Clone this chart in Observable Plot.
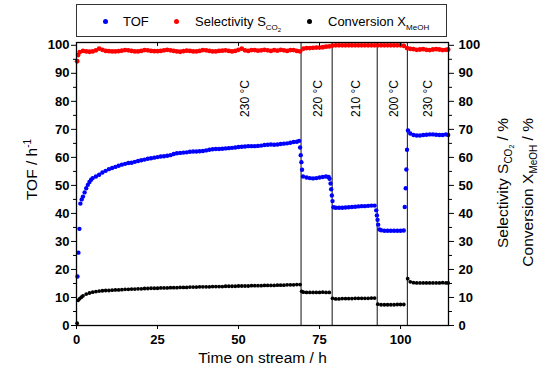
<!DOCTYPE html>
<html><head><meta charset="utf-8">
<script src="https://cdn.jsdelivr.net/npm/d3@7"></script>
<script src="https://cdn.jsdelivr.net/npm/@observablehq/plot@0.6"></script>
<style>
body{margin:0;background:#fff;font-family:"Liberation Sans",Arial,sans-serif;}
#wrap{position:relative;width:541px;height:367px;overflow:hidden;}
#legend{position:absolute;left:0;top:0;width:541px;height:36px;}
#box{position:absolute;left:76px;top:4px;width:371px;height:33px;border:1px solid #333;box-sizing:border-box;}
.item{position:absolute;top:14px;font-size:13px;line-height:15px;white-space:nowrap;color:#000;}
.dot{position:absolute;width:5px;height:5px;border-radius:50%;top:19px;}
.s1{font-size:8px;position:relative;top:4px;}
.s2{font-size:6px;position:relative;top:2px;}
#chart{position:absolute;left:0;top:36px;}
</style></head>
<body>
<div id="wrap">
  <div id="legend">
    <div id="box"></div>
    <div class="dot" style="left:102.5px;background:#0000ff"></div>
    <div class="item" style="left:123px">TOF</div>
    <div class="dot" style="left:173.5px;background:#ff0000"></div>
    <div class="item" style="left:195px">Selectivity S<span class="s1">CO<span class="s2">2</span></span></div>
    <div class="dot" style="left:307px;background:#000"></div>
    <div class="item" style="left:328px">Conversion X<span class="s1">MeOH</span></div>
  </div>
  <div id="chart"></div>
</div>
<script>
// ---- data ----
const tof = [
[0.3,17.5],[0.6,26],[0.9,34.5],[1.2,43.5],[1.6,45],[2,46],[2.5,47.5],[3,49],[3.5,50.2],[4,51.2],[4.5,52],[5,52.6],[6,53.2],[7,53.8],[8,54.6],[9,55.2],[10,55.8],[11,56.2],[12,56.6],[13,57],[14,57.4],[15,57.7],[16,58],[17,58.1],[18,58.4],[19,58.7],[20,59],[21,59.2],[22,59.5],[23,59.7],[24,59.9],[25,60.1],[26,60.3],[27,60.4],[28,60.6],[29,60.8],[30,61.2],[31,61.5],[32,61.6],[33,61.7],[34,61.8],[35,62],[36,62.1],[37,62.1],[38,62.2],[39,62.3],[40,62.5],[41,62.7],[42,62.9],[43,63],[44,63],[45,63.1],[46,63.2],[47,63.3],[48,63.4],[49,63.5],[50,63.7],[51,63.8],[52,63.9],[53,64],[54,64],[55,64],[56,64.1],[57,64.2],[58,64.4],[59,64.5],[60,64.6],[61,64.5],[62,64.6],[63,64.8],[64,64.9],[65,65],[66,65.2],[67,65.5],[68,65.6],[68.7,65.9],
[69.0,63.5],[69.2,60.8],[69.4,58.3],[69.6,55.6],[69.9,53.2],[71,52.8],[72,52.6],[73,52.5],[74,52.6],[75,52.8],[76,53],[77,53.2],[77.8,53],[78.1,52.4],
[78.4,50.7],[78.6,48.6],[78.8,46.4],[79.0,44.4],[79.3,42.2],[80,42],[81,42],[82,42],[83,42.1],[84,42.2],[85,42.3],[86,42.4],[87,42.5],[88,42.6],[89,42.6],[90,42.7],[91,42.8],[92,42.8],
[92.5,41.1],[92.7,39.3],[92.9,37.7],[93.1,36],[93.5,34.3],[94,34],[95,33.8],[96,33.8],[97,33.8],[98,33.8],[99,33.8],[100,33.8],[101,33.9],
[101.3,42.3],[101.6,49],[101.8,55.7],[102.0,62.7],[102.3,69.6],[103,68.5],[104,68],[105,67.8],[106,67.8],[107,68],[108,68.1],[109,68.2],[110,68.2],[111,68.1],[112,68],[113,68],[114,68.2],[114.7,68]
];
const selectivity = [
[0.2,94.3],[0.5,96.5],[1,97.6],[2,98],[3,97.8],[4,97.7],[5,97.8],[6,98.2],[7,98.8],[8,98.4],[9,98],[10,97.9],[11,97.8],[12,97.8],[13,97.9],[14,98.1],[15,98.3],[16,98.2],[17,98],[18,97.8],[19,97.8],[20,98],[21,98.3],[22,98.2],[23,98],[24,97.9],[25,97.9],[26,98],[27,98.2],[28,98.4],[29,98.2],[30,98],[31,97.8],[32,97.7],[33,97.9],[34,98.1],[35,98],[36,97.8],[37,97.8],[38,98],[39,98.3],[40,98.2],[41,98],[42,97.8],[43,97.8],[44,98],[45,98.1],[46,98.2],[47,98],[48,97.8],[49,98],[50,98.4],[51,98.8],[52,98.2],[53,98],[54,98.3],[55,98.3],[56,98.1],[57,98.2],[58,98.4],[59,98.2],[60,98],[61,98.3],[62,98.1],[63,98.4],[64,98.2],[65,98],[66,98.3],[67,98.3],[68,98],[69,97.8],
[70,98.8],[71,99],[72,99],[73,99.1],[74,99.2],[75,99.2],[76,99.3],[77,99.5],[78,99.6],
[79,99.9],[80,100],[81,100],[82,100],[83,100],[84,100],[85,100],[86,100],[87,100],[88,100],[89,100],[90,100],[91,100],[92,100],
[93,100],[94,100],[95,100],[96,100],[97,100],[98,100],[99,100],[100,100],[101,99.8],
[102,99],[103,98.7],[104,98.6],[105,98.4],[106,98.5],[107,98.6],[108,98.4],[109,98.3],[110,98.5],[111,98.6],[112,98.5],[113,98.3],[114,98.4],[114.7,98.5]
];
const conversion = [
[0.2,0.8],[0.5,9],[1,9.6],[1.5,10.1],[2,10.6],[3,11.2],[4,11.6],[5,11.9],[6,12.1],[7,12.3],[8,12.4],[9,12.5],[10,12.5],[11,12.6],[12,12.7],[13,12.7],[14,12.8],[15,12.9],[16,12.9],[17,13],[18,13],[19,13.1],[20,13.1],[21,13.2],[22,13.2],[23,13.3],[24,13.3],[25,13.3],[26,13.4],[27,13.4],[28,13.4],[29,13.5],[30,13.5],[31,13.5],[32,13.6],[33,13.6],[34,13.6],[35,13.7],[36,13.7],[37,13.7],[38,13.8],[39,13.8],[40,13.8],[41,13.8],[42,13.9],[43,13.9],[44,13.9],[45,13.9],[46,14],[47,14],[48,14],[49,14],[50,14.1],[51,14.1],[52,14.1],[53,14.1],[54,14.2],[55,14.2],[56,14.2],[57,14.2],[58,14.3],[59,14.3],[60,14.3],[61,14.3],[62,14.4],[63,14.4],[64,14.4],[65,14.5],[66,14.5],[67,14.5],[68,14.6],[69,14.6],
[69.5,12.2],[70,11.9],[71,11.8],[72,11.8],[73,11.8],[74,11.8],[75,11.8],[76,11.9],[77,11.8],[78,11.8],
[79,9.7],[80,9.5],[81,9.5],[82,9.6],[83,9.6],[84,9.6],[85,9.6],[86,9.7],[87,9.7],[88,9.7],[89,9.7],[90,9.7],[91,9.8],[92,9.8],
[93,7.6],[94,7.4],[95,7.4],[96,7.4],[97,7.4],[98,7.4],[99,7.5],[100,7.5],[101,7.5],
[102.2,16.7],[103,15.6],[104,15.3],[105,15.2],[106,15.2],[107,15.2],[108,15.2],[109,15.2],[110,15.2],[111,15.2],[112,15.2],[113,15.3],[114,15.2],[114.7,15.2]
];
const switchTimes = [69.3, 78.9, 92.8, 102.1];
const tempLabels = ["230 °C", "220 °C", "210 °C", "200 °C", "230 °C"];
const tempX = [52.2, 74.7, 86.4, 98.1, 108.6];
const tempY = [81, 81, 81, 81, 81];
const xTicks = [0, 25, 50, 75, 100];
const yTicks = [0, 10, 20, 30, 40, 50, 60, 70, 80, 90, 100];
const yMinor = [5, 15, 25, 35, 45, 55, 65, 75, 85, 95];

const font = '"Liberation Sans", Arial, sans-serif';
const chart = Plot.plot({
  width: 541, height: 331,
  marginTop: 6, marginBottom: 42, marginLeft: 76, marginRight: 93,
  style: {fontFamily: font, fontSize: "13px", color: "#000", background: "transparent", overflow: "visible"},
  x: {domain: [0, 114.8]},
  y: {domain: [0, 101]},
  marks: [
    Plot.ruleX(switchTimes, {stroke: "#111", strokeWidth: 1}),
    Plot.dot(conversion, {x: d => d[0], y: d => d[1], r: 1.9, fill: "#000", stroke: "none"}),
    Plot.dot(selectivity, {x: d => d[0], y: d => d[1], r: 2.4, fill: "#ff0000", stroke: "none"}),
    Plot.dot(tof, {x: d => d[0], y: d => d[1], r: 2.2, fill: "#0000ff", stroke: "none"}),
    Plot.text(tempLabels, {x: tempX, y: tempY, text: d => d, rotate: -90, fontSize: 12, fill: "#000"}),
    Plot.ruleX(xTicks, {y1: () => 101, y2: () => 99.6, stroke: "#000"}),
    Plot.axisX({ticks: xTicks, tickSize: 4, tickPadding: 5, label: null, fontWeight: "bold", fontSize: 13}),
    Plot.axisY({ticks: yTicks, tickSize: 5, tickPadding: 2, label: null, fontWeight: "bold", fontSize: 13}),
    Plot.axisY({ticks: yMinor, tickSize: 3, tickFormat: () => "", label: null}),
    Plot.axisY({anchor: "right", ticks: yTicks, tickSize: 5, tickPadding: 5, label: null, fontWeight: "bold", fontSize: 13}),
    Plot.axisY({anchor: "right", ticks: yMinor, tickSize: 3, tickFormat: () => "", label: null}),
    Plot.frame({stroke: "#000", strokeWidth: 1.3})
  ]
});
document.getElementById("chart").appendChild(chart);

const svg = d3.select(chart);
const tstyle = s => s.attr("font-family", font).attr("font-weight", "normal").style("font-weight", "normal").attr("font-size", 15.5).style("font-size", "15.5px").attr("fill", "#000");
// left title
const lt = svg.append("text").attr("transform", "translate(36.5,133.5) rotate(-90)").attr("text-anchor", "middle").call(tstyle);
lt.append("tspan").text("TOF / h");
lt.append("tspan").attr("baseline-shift", "6px").style("font-size", "10px").text("-1");
// bottom title
svg.append("text").attr("x", 262.5).attr("y", 326.5).attr("text-anchor", "middle").call(tstyle).text("Time on stream / h");
// right titles
const r1 = svg.append("text").attr("transform", "translate(508,82) rotate(-90)").attr("text-anchor", "end").call(tstyle);
r1.append("tspan").text("Selectivity S");
r1.append("tspan").attr("baseline-shift", "-4px").style("font-size", "10px").text("CO");
r1.append("tspan").attr("baseline-shift", "-6px").style("font-size", "7px").text("2");
r1.append("tspan").text(" / %");
const r2 = svg.append("text").attr("transform", "translate(533,82) rotate(-90)").attr("text-anchor", "end").call(tstyle);
r2.append("tspan").text("Conversion X");
r2.append("tspan").attr("baseline-shift", "-4px").style("font-size", "10px").text("MeOH");
r2.append("tspan").text(" / %");
</script>
</body></html>
